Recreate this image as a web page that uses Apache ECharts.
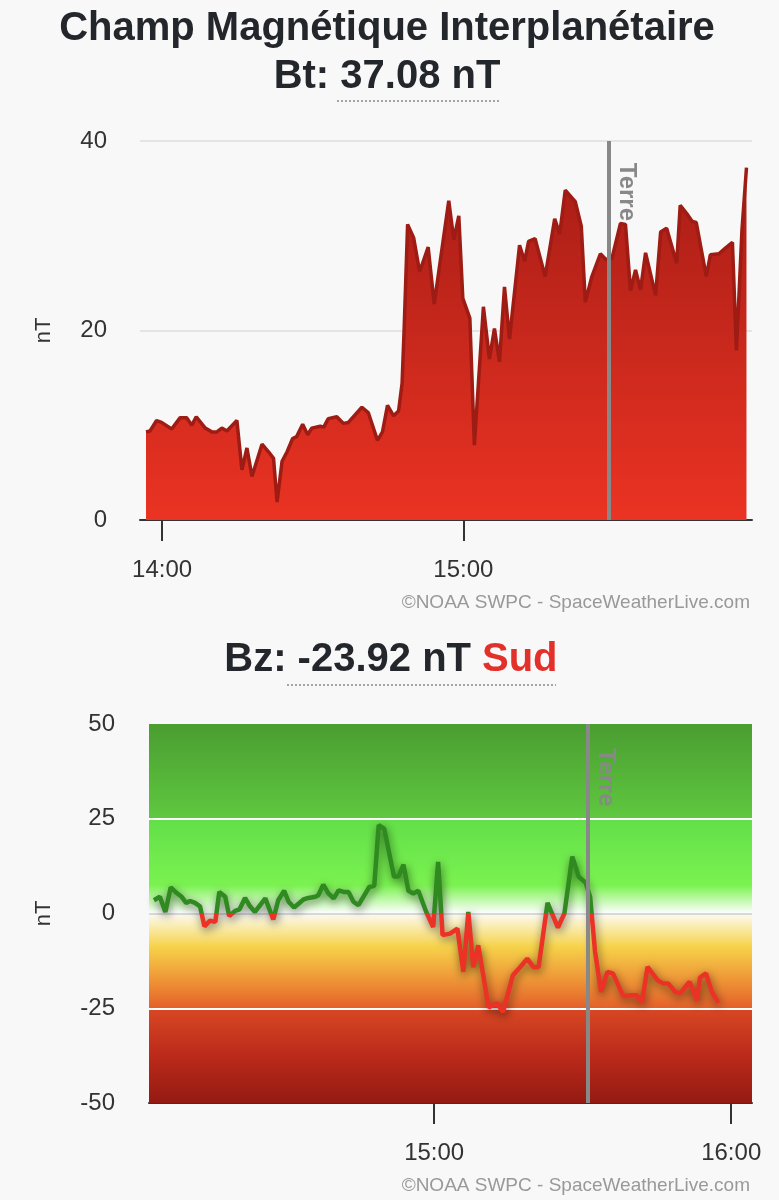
<!DOCTYPE html>
<html>
<head>
<meta charset="utf-8">
<script src="https://cdn.jsdelivr.net/npm/echarts@6/dist/echarts.min.js"></script>
<style>
html,body{margin:0;padding:0;background:#f8f8f8;}
#chart{width:779px;height:1200px;}
</style>
</head>
<body>
<div id="chart"></div>
<script>
// Bt (minutes after 14:00, nT)
var btMinutes = [-3.2, -2.4, -1.1, -0.1, 1.9, 3.6, 4.9, 5.9, 6.8, 8.6, 9.9, 10.9, 11.9, 12.9, 14.9, 15.9, 16.9, 17.9, 19.9, 21.2, 22.2, 22.9, 23.9, 24.9, 26.0, 26.8, 28.0, 29.0, 29.8, 31.5, 32.2, 33.1, 34.8, 36.1, 37.1, 39.8, 41.1, 42.9, 43.9, 44.9, 46.1, 47.1, 47.8, 48.2, 48.9, 50.1, 51.3, 53.0, 54.2, 55.4, 57.1, 58.1, 59.1, 59.9, 61.3, 62.2, 64.0, 65.2, 66.2, 67.2, 68.2, 69.2, 71.2, 72.2, 73.0, 74.3, 76.3, 78.2, 79.2, 80.3, 82.3, 83.5, 84.3, 85.6, 87.3, 88.4, 89.6, 91.3, 92.3, 93.3, 94.3, 95.3, 96.3, 98.3, 99.3, 100.5, 102.5, 103.2, 104.7, 105.6, 106.4, 108.4, 109.2, 110.9, 112.2, 113.6, 114.4, 115.5, 116.4];
var btValues = [9.3, 9.4, 10.5, 10.3, 9.6, 10.8, 10.8, 10.0, 10.9, 9.7, 9.3, 9.3, 9.7, 9.4, 10.5, 5.3, 7.6, 4.6, 8.0, 7.2, 6.5, 1.9, 6.2, 7.2, 8.6, 8.8, 10.1, 9.0, 9.7, 9.9, 9.8, 10.7, 10.9, 10.2, 10.3, 11.9, 11.3, 8.4, 9.3, 12.1, 11.0, 11.5, 14.4, 20.0, 31.2, 29.8, 26.2, 28.8, 22.8, 27.3, 33.7, 29.6, 32.1, 23.4, 21.3, 7.9, 22.5, 17.0, 20.2, 16.7, 24.6, 19.1, 29.0, 27.3, 29.4, 29.7, 25.7, 31.8, 30.2, 34.8, 33.6, 31.0, 23.0, 25.7, 28.1, 27.5, 27.6, 31.3, 31.2, 24.2, 26.4, 24.3, 28.2, 23.7, 30.4, 30.8, 27.1, 33.2, 32.2, 31.5, 31.4, 25.7, 28.0, 28.1, 28.7, 29.3, 17.9, 30.6, 37.2];

// Bz (minutes after 14:00, nT)
var bzMinutes = [3.4, 4.6, 5.7, 6.8, 8.0, 9.0, 9.9, 10.7, 11.7, 12.7, 13.6, 14.7, 15.8, 16.6, 17.8, 18.6, 19.8, 20.7, 21.8, 22.8, 23.8, 25.9, 27.5, 28.5, 29.7, 30.6, 31.7, 33.6, 34.6, 36.0, 36.6, 37.6, 38.6, 39.7, 40.7, 41.7, 42.7, 43.7, 44.7, 46.9, 47.9, 48.8, 49.9, 51.9, 52.8, 53.8, 54.8, 55.8, 56.8, 58.4, 59.8, 60.8, 61.7, 63.2, 64.7, 65.9, 66.9, 67.9, 68.9, 71.0, 72.7, 73.9, 75.9, 77.4, 78.8, 80.1, 81.1, 82.9, 85.0, 86.3, 87.9, 89.2, 90.6, 91.5, 92.5, 93.7, 95.0, 96.1, 98.2, 99.9, 100.9, 102.0, 103.1, 105.1, 106.3, 107.3, 108.7, 109.7, 110.7, 111.6, 113.1, 113.7, 114.9, 116.1, 117.4];
var bzValues = [3.5, 4.4, 0.4, 6.9, 5.4, 4.4, 2.8, 3.3, 2.8, 1.9, -3.4, -1.9, -2.2, 5.7, 4.4, -0.7, 0.7, 1.1, 4.1, 1.9, 0.4, 4.0, -1.6, 3.5, 6.0, 3.1, 1.6, 3.7, 4.1, 4.4, 4.8, 7.6, 5.4, 4.0, 6.1, 5.7, 5.7, 3.1, 2.2, 7.0, 7.3, 23.3, 22.4, 9.7, 9.8, 12.9, 6.0, 5.3, 6.0, 0.4, -3.6, 13.6, -5.7, -5.3, -4.0, -15.4, 0.4, -14.2, -8.4, -24.8, -23.7, -26.0, -16.3, -14.1, -11.9, -14.2, -14.1, 2.8, -3.7, 0.0, 15.0, 9.7, 8.1, 4.4, -10.1, -20.7, -15.4, -15.8, -21.8, -21.6, -21.6, -23.3, -14.1, -17.6, -18.5, -18.5, -20.7, -21.1, -19.4, -18.0, -22.9, -16.9, -15.8, -20.7, -23.6];

var btTickMinutes = [0, 60];
var btTickLabels = ['14:00', '15:00'];
var bzTickMinutes = [60, 120];
var bzTickLabels = ['15:00', '16:00'];
var btTerre = 88.9;
var bzTerre = 91.0;

var FONT = "'Liberation Sans', Arial, Helvetica, sans-serif";
var AXIS_COLOR = '#333';

function grad(stops) {
  return {
    type: 'linear', x: 0, y: 0, x2: 0, y2: 1,
    colorStops: stops.map(function (s) { return { offset: s[0], color: s[1] }; })
  };
}

function tickFormatter(minutes, labels) {
  return function (v) {
    var i = minutes.indexOf(v);
    return i >= 0 ? labels[i] : '';
  };
}

var terreLabel = {
  show: true,
  formatter: 'Terre',
  position: 'right',
  distance: 18,
  rotate: -90,
  color: '#888',
  fontSize: 24,
  fontWeight: 'bold',
  fontFamily: FONT
};

var chart = echarts.init(document.getElementById('chart'));
chart.setOption({
  animation: false,
  backgroundColor: '#f8f8f8',
  textStyle: { fontFamily: FONT },
  graphic: [
    { type: 'text', x: 387, y: 29, style: { text: 'Champ Magnétique Interplanétaire', font: 'bold 40px ' + FONT, fill: '#23262b', align: 'center', verticalAlign: 'middle' } },
    { type: 'text', x: 387, y: 77, style: { text: 'Bt: 37.08 nT', font: 'bold 40px ' + FONT, fill: '#23262b', align: 'center', verticalAlign: 'middle' } },
    { type: 'line', shape: { x1: 337, y1: 101, x2: 501, y2: 101 }, style: { stroke: '#888', lineWidth: 1.5, lineDash: [2, 2] } },
    { type: 'text', x: 750, y: 603, style: { text: '©NOAA SWPC - SpaceWeatherLive.com', font: '19px ' + FONT, fill: '#999', align: 'right', verticalAlign: 'middle' } },
    { type: 'text', x: 471, y: 660, style: { text: 'Bz: -23.92 nT', font: 'bold 40px ' + FONT, fill: '#23262b', align: 'right', verticalAlign: 'middle' } },
    { type: 'text', x: 482, y: 660, style: { text: 'Sud', font: 'bold 40px ' + FONT, fill: '#e2302a', align: 'left', verticalAlign: 'middle' } },
    { type: 'line', shape: { x1: 287, y1: 685, x2: 556, y2: 685 }, style: { stroke: '#888', lineWidth: 1.5, lineDash: [2, 2] } },
    { type: 'text', x: 750, y: 1186, style: { text: '©NOAA SWPC - SpaceWeatherLive.com', font: '19px ' + FONT, fill: '#999', align: 'right', verticalAlign: 'middle' } }
  ],
  grid: [
    { left: 140, right: 27, top: 141, height: 379 },
    { left: 149, right: 27, top: 724, height: 379 }
  ],
  xAxis: [
    {
      gridIndex: 0, type: 'value', min: -4.4, max: 117.5,
      axisLine: { onZero: false, lineStyle: { color: AXIS_COLOR, width: 2 } },
      axisTick: { customValues: btTickMinutes, length: 21, lineStyle: { color: AXIS_COLOR, width: 2 } },
      axisLabel: { customValues: btTickMinutes, formatter: tickFormatter(btTickMinutes, btTickLabels), fontSize: 24, color: AXIS_COLOR, margin: 38 },
      splitLine: { show: false }
    },
    {
      gridIndex: 1, type: 'value', min: 2.4, max: 124.2,
      axisLine: { onZero: false, lineStyle: { color: AXIS_COLOR, width: 2 } },
      axisTick: { customValues: bzTickMinutes, length: 21, lineStyle: { color: AXIS_COLOR, width: 2 } },
      axisLabel: { customValues: bzTickMinutes, formatter: tickFormatter(bzTickMinutes, bzTickLabels), fontSize: 24, color: AXIS_COLOR, margin: 38 },
      splitLine: { show: false }
    }
  ],
  yAxis: [
    {
      gridIndex: 0, type: 'value', min: 0, max: 40, interval: 20,
      name: 'nT', nameLocation: 'middle', nameGap: 85,
      nameTextStyle: { fontSize: 22, color: AXIS_COLOR },
      axisLine: { show: false }, axisTick: { show: false },
      axisLabel: { fontSize: 24, color: AXIS_COLOR, margin: 33 },
      splitLine: { lineStyle: { color: '#e4e4e4', width: 2 } }
    },
    {
      gridIndex: 1, type: 'value', min: -50, max: 50, interval: 25,
      name: 'nT', nameLocation: 'middle', nameGap: 94,
      nameTextStyle: { fontSize: 22, color: AXIS_COLOR },
      axisLine: { show: false }, axisTick: { show: false },
      axisLabel: { fontSize: 24, color: AXIS_COLOR, margin: 34 },
      splitLine: { show: false }
    }
  ],
  visualMap: [{
    type: 'piecewise', show: false, seriesIndex: 2, dimension: 1,
    pieces: [
      { gt: 0, lte: 60, color: '#2f8a1f' },
      { gte: -60, lte: 0, color: '#ec3226' }
    ]
  }],
  series: [
    {
      name: 'Bt', type: 'line', xAxisIndex: 0, yAxisIndex: 0,
      data: btMinutes.map(function (m, i) { return [m, btValues[i]]; }),
      symbol: 'none',
      lineStyle: { color: '#9e1c14', width: 3.5 },
      areaStyle: { opacity: 1, color: grad([[0, '#a81d16'], [1, '#ea3323']]) },
      markLine: {
        silent: true, symbol: ['none', 'none'], label: { show: false },
        lineStyle: { color: '#888', width: 4, type: 'solid' },
        data: [{ xAxis: btTerre }]
      },
      markPoint: {
        silent: true, symbol: 'circle', symbolSize: 0,
        data: [{ coord: [btTerre, 37.7] }],
        label: terreLabel
      }
    },
    {
      // colour bands and grid lines behind the Bz line
      name: 'zones', type: 'line', xAxisIndex: 1, yAxisIndex: 1, data: [],
      markArea: {
        silent: true,
        data: [
          [{ yAxis: 50, itemStyle: { opacity: 1, color: grad([[0, '#4a9d30'], [1, '#5fc840']]) } }, { yAxis: 25 }],
          [{ yAxis: 25, itemStyle: { opacity: 1, color: grad([[0, '#62df48'], [0.7, '#7af250'], [1, '#ffffff']]) } }, { yAxis: 0 }],
          [{ yAxis: 0, itemStyle: { opacity: 1, color: grad([[0, '#fbfaf2'], [0.12, '#faeeb8'], [0.35, '#f6d24a'], [0.7, '#ee9536'], [1, '#e4602a']]) } }, { yAxis: -25 }],
          [{ yAxis: -25, itemStyle: { opacity: 1, color: grad([[0, '#d84824'], [0.5, '#bb2a1a'], [1, '#941a12']]) } }, { yAxis: -50 }]
        ]
      },
      markLine: {
        z: 1.5,
        silent: true, symbol: ['none', 'none'], label: { show: false },
        data: [
          { yAxis: 25, lineStyle: { color: '#ffffff', width: 2, type: 'solid' } },
          { yAxis: -25, lineStyle: { color: '#ffffff', width: 2, type: 'solid' } },
          { yAxis: 0, lineStyle: { color: '#d8d8d8', width: 2, type: 'solid' } }
        ]
      }
    },
    {
      name: 'Bz', type: 'line', xAxisIndex: 1, yAxisIndex: 1, z: 3,
      data: bzMinutes.map(function (m, i) { return [m, bzValues[i]]; }),
      symbol: 'none',
      lineStyle: { width: 4.5, shadowColor: 'rgba(0,0,0,0.55)', shadowBlur: 10, shadowOffsetX: 1, shadowOffsetY: 3 }
    },
    {
      name: 'terre', type: 'line', xAxisIndex: 1, yAxisIndex: 1, data: [],
      markLine: {
        silent: true, symbol: ['none', 'none'], label: { show: false },
        lineStyle: { color: '#888', width: 4, type: 'solid' },
        data: [{ xAxis: bzTerre }]
      },
      markPoint: {
        silent: true, symbol: 'circle', symbolSize: 0,
        data: [{ coord: [bzTerre, 43.6] }],
        label: terreLabel
      }
    }
  ]
});
</script>
</body>
</html>
